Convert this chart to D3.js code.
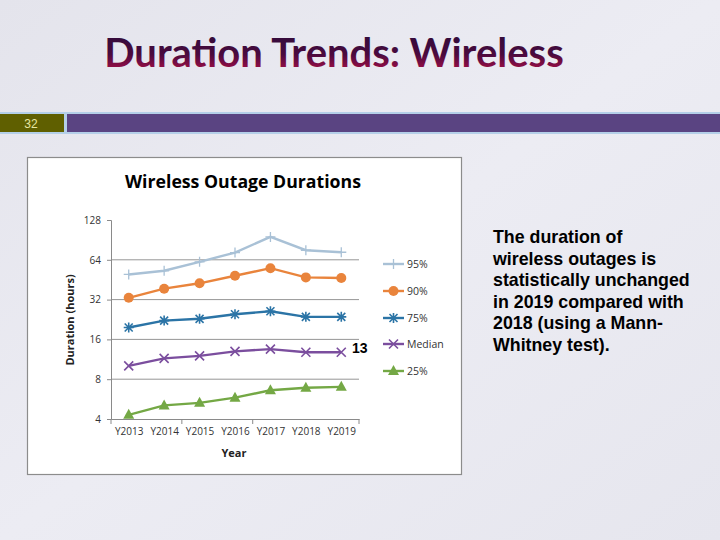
<!DOCTYPE html>
<html><head><meta charset="utf-8">
<script src="https://cdn.jsdelivr.net/npm/d3@7"></script>
<style>html,body{margin:0;padding:0;background:#e8e8f0;}svg{display:block;}</style>
</head><body>
<script>
const years = ["Y2013","Y2014","Y2015","Y2016","Y2017","Y2018","Y2019"];
const p95 = [49.6, 52.9, 61.8, 72.6, 95.4, 75.6, 73];
const p90 = [33, 38.7, 42.5, 48.5, 55.3, 47.1, 46.6];
const p75 = [19.7, 22.2, 22.9, 24.8, 26.1, 23.7, 23.7];
const median = [10.1, 11.5, 12.0, 13.0, 13.5, 12.8, 12.8];
const p25 = [4.3, 5.07, 5.3, 5.8, 6.6, 6.9, 7.0];
const yTicks = [4, 8, 16, 32, 64, 128];
const seriesNames = ["95%","90%","75%","Median","25%"];
const noteLines = ["The duration of","wireless outages is","statistically unchanged","in 2019 compared with","2018 (using a Mann-","Whitney test)."];

const series = [
  {name: seriesNames[0], values: p95, color: "#a9c1d6", marker: "plus"},
  {name: seriesNames[1], values: p90, color: "#e9843c", marker: "circle"},
  {name: seriesNames[2], values: p75, color: "#2b74a6", marker: "star"},
  {name: seriesNames[3], values: median, color: "#7b4e9e", marker: "cross"},
  {name: seriesNames[4], values: p25, color: "#74a845", marker: "triangle"}
];

const W = 720, H = 540;
const svg = d3.select("body").append("svg").attr("width", W).attr("height", H);

const defs = svg.append("defs");
const bg = defs.append("linearGradient").attr("id","bg").attr("x1",0).attr("y1",0).attr("x2",1).attr("y2",1);
bg.append("stop").attr("offset","0").attr("stop-color","#e4e4ec");
bg.append("stop").attr("offset","0.5").attr("stop-color","#ececf3");
bg.append("stop").attr("offset","1").attr("stop-color","#e6e6ee");
svg.append("rect").attr("width",W).attr("height",H).attr("fill","url(#bg)");

const tg = defs.append("linearGradient").attr("id","tg").attr("x1",0).attr("y1",0).attr("x2",0).attr("y2",1);
tg.append("stop").attr("offset","0").attr("stop-color","#2a0c3a");
tg.append("stop").attr("offset","0.55").attr("stop-color","#4a0a3e");
tg.append("stop").attr("offset","1").attr("stop-color","#c0104a");

// slide title
svg.append("text").attr("x", 334).attr("y", 67).attr("text-anchor","middle")
  .attr("font-family","Lato, 'Open Sans', sans-serif").attr("font-weight","bold")
  .attr("font-size", 40).attr("fill","url(#tg)").text("Duration Trends: Wireless");

// band
svg.append("rect").attr("x",0).attr("y",112).attr("width",W).attr("height",22).attr("fill","#b4cfe8");
svg.append("rect").attr("x",0).attr("y",114).attr("width",64).attr("height",18).attr("fill","#5f5f00");
svg.append("rect").attr("x",67).attr("y",114).attr("width",W-67).attr("height",18).attr("fill","#5a4482");
svg.append("text").attr("x",31).attr("y",128).attr("text-anchor","middle")
  .attr("font-family","'Liberation Sans Narrow', 'Liberation Sans', sans-serif").attr("font-size",12)
  .attr("fill","#e6e6a0").text("32");

// chart box
svg.append("rect").attr("x",27.5).attr("y",157.5).attr("width",434).attr("height",317)
  .attr("fill","#ffffff").attr("stroke","#8c8c8c").attr("stroke-width",1.2);

svg.append("text").attr("x",243).attr("y",188).attr("text-anchor","middle")
  .attr("font-family","'Open Sans', sans-serif").attr("font-weight","bold").attr("font-size",17.7)
  .attr("fill","#000").text("Wireless Outage Durations");

const x = d3.scalePoint().domain(years).range([111, 359]).padding(0.5);
const y = d3.scaleLog().base(2).domain([4, 128]).range([419, 220]);

const fontAx = "'Open Sans', sans-serif";
// gridlines
svg.append("g").selectAll("line").data(yTicks.filter(t => t > 4 && t < 128)).join("line")
  .attr("x1",111).attr("x2",359).attr("y1",d=>y(d)).attr("y2",d=>y(d))
  .attr("stroke","#8a8a8a").attr("stroke-width",0.9);

// y axis
const yAxis = d3.axisLeft(y).tickValues(yTicks).tickFormat(d3.format("d")).tickSize(4).tickPadding(6);
const gy = svg.append("g").attr("transform","translate(111,0)").call(yAxis);
gy.select(".domain").attr("stroke","#8a8a8a");
gy.selectAll(".tick line").attr("stroke","#8a8a8a");
gy.selectAll("text").attr("font-family",fontAx).attr("font-size",10).attr("fill","#333");

// x axis
const xAxis = d3.axisBottom(x).tickSize(0).tickPadding(9);
const gx = svg.append("g").attr("transform","translate(0,419)").call(xAxis);
gx.select(".domain").attr("stroke","#8a8a8a");
gx.selectAll("text").attr("font-family",fontAx).attr("font-size",10).attr("fill","#333");
const step = x.step();
[0,2,4,7].forEach(k => {
  svg.append("line").attr("x1",111+k*step).attr("x2",111+k*step).attr("y1",419).attr("y2",424)
    .attr("stroke","#8a8a8a");
});

svg.append("text").attr("x",234).attr("y",457).attr("text-anchor","middle")
  .attr("font-family",fontAx).attr("font-weight","bold").attr("font-size",11).attr("fill","#222").text("Year");
svg.append("text").attr("transform","translate(74,320) rotate(-90)").attr("text-anchor","middle")
  .attr("font-family",fontAx).attr("font-weight","bold").attr("font-size",11).attr("fill","#222").text("Duration (hours)");

function drawMarker(g, type, cx, cy, color) {
  if (type === "plus") {
    g.append("path").attr("d",`M${cx-5},${cy}H${cx+5}M${cx},${cy-5}V${cy+5}`).attr("stroke",color).attr("stroke-width",1.3);
  } else if (type === "circle") {
    g.append("circle").attr("cx",cx).attr("cy",cy).attr("r",5).attr("fill",color);
  } else if (type === "star") {
    g.append("path").attr("d",`M${cx-5},${cy}H${cx+5}M${cx-4},${cy-4}L${cx+4},${cy+4}M${cx-4},${cy+4}L${cx+4},${cy-4}M${cx},${cy-5}V${cy+5}`)
      .attr("stroke",color).attr("stroke-width",1.6);
  } else if (type === "cross") {
    g.append("path").attr("d",`M${cx-4.5},${cy-4.5}L${cx+4.5},${cy+4.5}M${cx-4.5},${cy+4.5}L${cx+4.5},${cy-4.5}`)
      .attr("stroke",color).attr("stroke-width",1.6);
  } else if (type === "triangle") {
    g.append("path").attr("d",`M${cx},${cy-6}L${cx+5.5},${cy+4}L${cx-5.5},${cy+4}Z`).attr("fill",color);
  }
}

const line = d3.line().x((d,i)=>x(years[i])).y(d=>y(d));
series.forEach(s => {
  const g = svg.append("g");
  g.append("path").datum(s.values).attr("d",line).attr("fill","none")
    .attr("stroke",s.color).attr("stroke-width",2.4);
  s.values.forEach((v,i) => drawMarker(g, s.marker, x(years[i]), y(v), s.color));
});

// legend
const legY = [264, 291, 318, 344, 371];
series.forEach((s,i) => {
  const g = svg.append("g");
  g.append("line").attr("x1",383).attr("x2",404).attr("y1",legY[i]).attr("y2",legY[i])
    .attr("stroke",s.color).attr("stroke-width",2.4);
  drawMarker(g, s.marker, 393.5, legY[i], s.color);
  g.append("text").attr("x",407).attr("y",legY[i]+4).attr("font-family",fontAx).attr("font-size",10.5)
    .attr("fill","#333").text(s.name);
});

// annotation "13"
svg.append("text").attr("x",352).attr("y",353).attr("font-family","'Liberation Sans', Arial, sans-serif")
  .attr("font-weight","bold").attr("font-size",14).attr("fill","#000").text("13");

// note text
const note = svg.append("text").attr("font-family","'Liberation Sans', Arial, sans-serif")
  .attr("font-weight","bold").attr("font-size",17.8).attr("fill","#000");
noteLines.forEach((t,i) => {
  note.append("tspan").attr("x",493).attr("y",243 + i*21.6).text(t);
});
</script>
</body></html>
